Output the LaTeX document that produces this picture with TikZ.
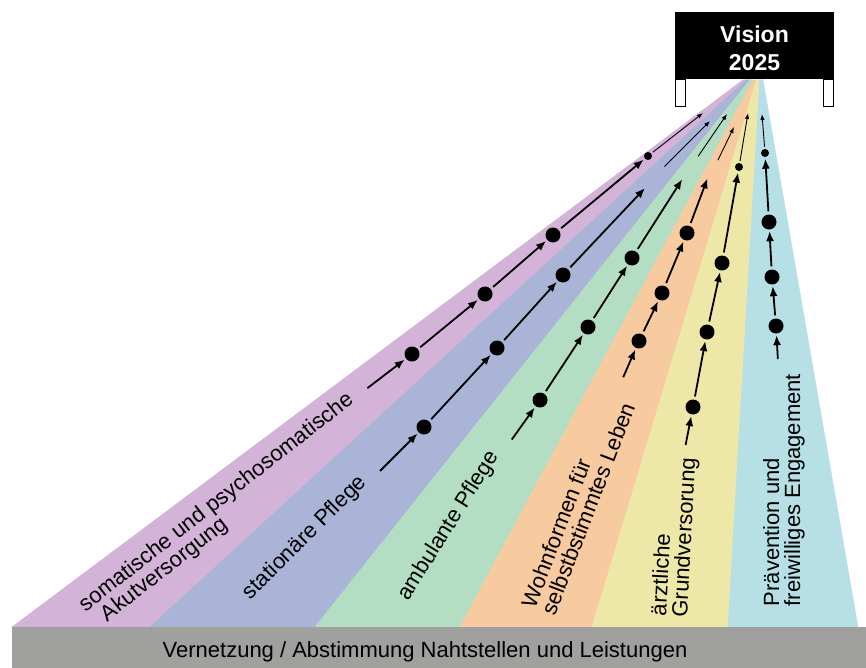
\documentclass[tikz,border=0pt]{standalone}
\usepackage{fontspec}
\setmainfont{Liberation Sans}
\usetikzlibrary{arrows.meta}
\definecolor{purp}{RGB}{212,179,216}
\definecolor{blu}{RGB}{169,180,214}
\definecolor{grn}{RGB}{180,222,196}
\definecolor{org}{RGB}{248,202,160}
\definecolor{yel}{RGB}{238,232,168}
\definecolor{cyn}{RGB}{183,224,230}
\definecolor{bar}{RGB}{160,160,158}

\begin{document}
\begin{tikzpicture}[x=1pt,y=-1pt,font=\fontsize{22}{21}\selectfont,
  wedge/.style={fill=#1,draw=#1,line width=.5pt},
  dot/.style={circle,fill,inner sep=0,minimum size=15pt},
  sdot/.style={circle,fill,inner sep=0,minimum size=8pt},
  arr/.style={line width=1.8pt,-{Latex[length=10pt,width=8pt]},shorten >=1.5pt,shorten <=3pt},
  thinarr/.style={line width=.9pt,-{Latex[length=6pt,width=4.5pt]},shorten <=2pt},
  lbl/.style={inner sep=0,align=left}]
 \useasboundingbox (0,0) rectangle (866,668);
 % fan of sectors
 \path[wedge=purp] (743,80)--(746.3,80)--(150,627)--(12,627)--cycle;
 \path[wedge=blu] (746.3,80)--(749.7,80)--(315,627)--(150,627)--cycle;
 \path[wedge=grn] (749.7,80)--(753,80)--(460,627)--(315,627)--cycle;
 \path[wedge=org] (753,80)--(756.3,80)--(592,627)--(460,627)--cycle;
 \path[wedge=yel] (756.3,80)--(759.7,80)--(728,627)--(592,627)--cycle;
 \path[wedge=cyn] (759.7,80)--(763,80)--(858,627)--(728,627)--cycle;
 % base bar
 \fill[bar] (12,627) rectangle (866,668);
 \node[anchor=base,inner sep=0] (netz) at (425,657) {Vernetzung / Abstimmung Nahtstellen und Leistungen};
 % sign
 \fill (675,12) rectangle (834,79);
 \draw[fill=white,line width=1.2pt] (675.6,79) rectangle (685.6,106.4) (823.4,79) rectangle (833.4,106.4);
 \node[text=white,font=\fontsize{23}{28}\selectfont\bfseries,align=center,inner sep=0] (vis) at (754.5,48) {Vision\\2025};
 % sector labels
 \node[lbl,rotate=38] (akut) at (223,511) {somatische und psychosomatische\\\hspace*{11pt}Akutversorgung};
 \node[lbl,rotate=45] (stat) at (305,538) {stationäre Pflege};
 \node[lbl,rotate=58] (amb) at (449,526) {ambulante Pflege};
 \node[lbl,rotate=69] (wohn) at (578,505) {Wohnformen für\\selbstbstimmtes Leben};
 \node[lbl,rotate=87] (arzt) at (675,537) {ärztliche\\Grundversorung};
 \node[lbl,rotate=90] (prav) at (784,490) {Prävention und\\freiwilliges Engagement};
 % paths to the vision
 \coordinate (a0) at (365,390); \node[dot] (a1) at (412,354) {}; \node[dot] (a2) at (485,294) {};
 \node[dot] (a3) at (553,235) {}; \node[sdot] (a4) at (648,156) {}; \coordinate (a5) at (703,113);
 \draw[arr] (a0)--(a1); \draw[arr] (a1)--(a2); \draw[arr] (a2)--(a3); \draw[arr] (a3)--(a4);
 \draw[thinarr] (a4)--(a5);
 \coordinate (b0) at (378,473); \node[dot] (b1) at (424,427) {}; \node[dot] (b2) at (497,348) {};
 \node[dot] (b3) at (563,275) {}; \coordinate (b4) at (646,187);
 \coordinate (b5) at (663,168); \coordinate (b6) at (710,121);
 \draw[arr] (b0)--(b1); \draw[arr] (b1)--(b2); \draw[arr] (b2)--(b3); \draw[arr] (b3)--(b4);
 \draw[thinarr] (b5)--(b6);
 \coordinate (c0) at (510,442); \node[dot] (c1) at (540,400) {}; \node[dot] (c2) at (588,327) {};
 \node[dot] (c3) at (632,258) {}; \coordinate (c4) at (683,178);
 \coordinate (c5) at (697,158); \coordinate (c6) at (727,114);
 \draw[arr] (c0)--(c1); \draw[arr] (c1)--(c2); \draw[arr] (c2)--(c3); \draw[arr] (c3)--(c4);
 \draw[thinarr] (c5)--(c6);
 \coordinate (d0) at (622,380); \node[dot] (d1) at (639,341) {}; \node[dot] (d2) at (662,293) {};
 \node[dot] (d3) at (687,233) {}; \coordinate (d4) at (708,177);
 \coordinate (d5) at (717,162); \coordinate (d6) at (734,127);
 \draw[arr] (d0)--(d1); \draw[arr] (d1)--(d2); \draw[arr] (d2)--(d3); \draw[arr] (d3)--(d4);
 \draw[thinarr] (d5)--(d6);
 \coordinate (e0) at (685,448); \node[dot] (e1) at (693,407) {}; \node[dot] (e2) at (707,332) {};
 \node[dot] (e3) at (722,263) {}; \node[sdot] (e4) at (739,167) {}; \coordinate (e5) at (748,113);
 \draw[arr] (e0)--(e1); \draw[arr] (e1)--(e2); \draw[arr] (e2)--(e3); \draw[arr] (e3)--(e4);
 \draw[thinarr] (e4)--(e5);
 \coordinate (f0) at (778,362); \node[dot] (f1) at (776,326) {}; \node[dot] (f2) at (772,277) {};
 \node[dot] (f3) at (769,222) {}; \node[sdot] (f4) at (765,153) {}; \coordinate (f5) at (762,114);
 \draw[arr] (f0)--(f1); \draw[arr] (f1)--(f2); \draw[arr] (f2)--(f3); \draw[arr] (f3)--(f4);
 \draw[thinarr] (f4)--(f5);
\end{tikzpicture}
\end{document}
